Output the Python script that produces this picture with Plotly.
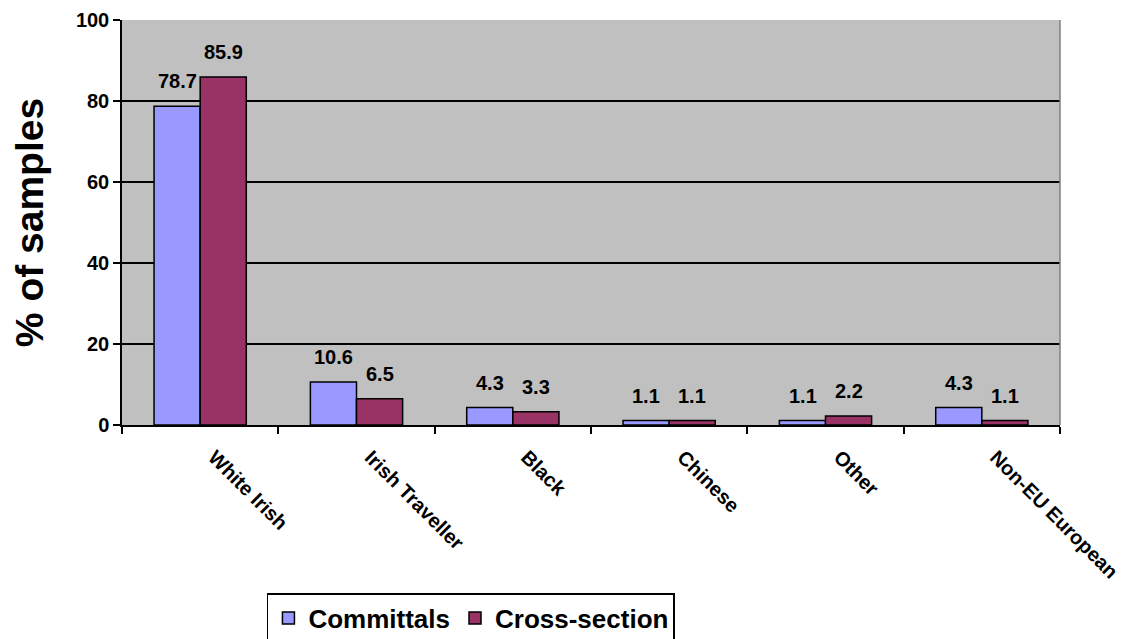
import plotly.graph_objects as go

categories = ['White Irish', 'Irish Traveller', 'Black', 'Chinese', 'Other', 'Non-EU European']
committals = [78.7, 10.6, 4.3, 1.1, 1.1, 4.3]
cross_section = [85.9, 6.5, 3.3, 1.1, 2.2, 1.1]

font_family = 'Liberation Sans, Arial, sans-serif'

fig = go.Figure()
series = [
    ('Committals', committals, '#9999FF', -23),
    ('Cross-section', cross_section, '#993366', 23),
]
for name, values, color, shift in series:
    fig.add_trace(go.Bar(
        x=categories, y=values, name=f'<b>{name}</b>',
        marker=dict(color=color, line=dict(color='black', width=1.5)),
    ))
    # value labels above each bar
    for cat, v in zip(categories, values):
        fig.add_annotation(
            x=cat, y=v, text=f'<b>{v:.1f}</b>', showarrow=False,
            xshift=shift, yshift=25, yanchor='middle',
            font=dict(size=20, color='black', family=font_family),
        )

# the page body adds an 8px margin, so the figure is sized/offset to compensate
fig.update_layout(
    width=1132, height=631,
    margin=dict(l=114, r=80, t=12, b=214),
    paper_bgcolor='white',
    plot_bgcolor='#C0C0C0',
    barmode='group',
    bargap=0.41,
    bargroupgap=0,
    font=dict(family=font_family, color='black'),
    showlegend=True,
    legend=dict(
        orientation='h', x=0.372, xanchor='center',
        yref='container', y=1 - 585 / 631, yanchor='top',
        bordercolor='black', borderwidth=1.5, bgcolor='white',
        font=dict(size=26, family=font_family),
        traceorder='normal',
    ),
    xaxis=dict(
        type='category', tickson='boundaries', ticks='outside', ticklen=7,
        tickcolor='black', tickwidth=1.5,
        showline=True, linecolor='black', linewidth=1.5,
        tickangle=45, tickfont=dict(size=20, family=font_family),
        tickprefix='<b>', ticksuffix='</b>',
        ticklabelstandoff=11, ticklabelshift=14,
        showgrid=False, automargin=False,
    ),
    yaxis=dict(
        range=[0, 100], dtick=20, ticks='outside', ticklen=7,
        tickcolor='black', tickwidth=1.5,
        showline=True, linecolor='black', linewidth=1.5,
        showgrid=True, gridcolor='black', gridwidth=1.5,
        tickfont=dict(size=20, family=font_family),
        tickprefix='<b>', ticksuffix='</b>',
        title=dict(text='<b>% of samples</b>', font=dict(size=39, family=font_family), standoff=22),
        zeroline=False, automargin=False,
    ),
)

# right border of the plot area
fig.add_shape(type='line', xref='paper', yref='paper', x0=1, x1=1, y0=0, y1=1,
              line=dict(color='#808080', width=1.5))

fig.write_html('out.html')
